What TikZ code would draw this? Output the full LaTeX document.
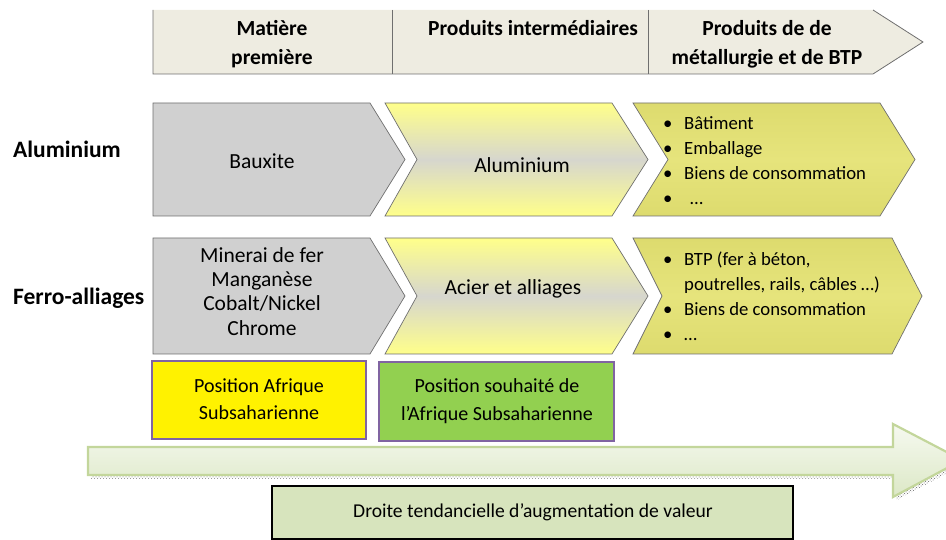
\documentclass[tikz,border=0pt]{standalone}
\usepackage{fontspec}
\setmainfont{Carlito}
\usetikzlibrary{patterns}
\definecolor{hdr}{HTML}{EEECE1}
\definecolor{hdrline}{HTML}{6F6F6F}
\definecolor{chevline}{HTML}{6F6F6F}
\definecolor{grayfill}{HTML}{D0D0D0}
\definecolor{yel}{HTML}{FFFF8A}
\definecolor{midgray}{HTML}{D6D6CE}
\definecolor{olive}{HTML}{E6E47C}
\definecolor{olivedark}{HTML}{DDDB6E}
\definecolor{purp}{HTML}{8064A2}
\definecolor{grn}{HTML}{92D050}
\definecolor{arrowline}{HTML}{C3D69B}
\definecolor{arrowlight}{HTML}{F6F9F0}
\definecolor{arrowdark}{HTML}{DCE8C6}
\definecolor{boxfill}{HTML}{D7E4BD}
\tikzset{
  txt/.style={anchor=base, inner sep=0pt, font=\fontsize{21.5}{25}\selectfont},
  hdrtxt/.style={anchor=base, inner sep=0pt, font=\fontsize{21.5}{25}\selectfont\bfseries},
  rowlabel/.style={anchor=base west, inner sep=0pt, font=\fontsize{23.5}{27}\selectfont\bfseries},
  bul/.style={anchor=base west, inner sep=0pt, font=\fontsize{18.7}{22}\selectfont},
  postxt/.style={anchor=base, inner sep=0pt, font=\fontsize{20}{24}\selectfont},
  chev/.style={draw=chevline, line width=0.7pt},
  grayarrow/.style={chev, fill=grayfill},
  yelchev/.style={chev, top color=yel, bottom color=yel, middle color=midgray},
  olivechev/.style={chev, top color=olivedark, bottom color=olivedark, middle color=olive},
  posbox/.style={draw=purp, line width=1.6pt, inner sep=0pt},
}
\begin{document}
\begin{tikzpicture}[x=1pt,y=-1pt]
\useasboundingbox (0,0) rectangle (946,540);
\clip (0,0) rectangle (946,540);
% header band
\fill[hdr] (153,10) -- (873,10) -- (923,42) -- (873,74) -- (153,74) -- cycle;
\draw[hdrline, line width=0.8pt] (153,10) -- (153,74) -- (873,74) -- (923,42) -- (873,10);
\draw[hdrline, line width=0.8pt] (392,10) -- (392,74);
\draw[hdrline, line width=0.8pt] (648,10) -- (648,74);
\node[hdrtxt] (h1a) at (272,36) {Matière};
\node[hdrtxt] (h1b) at (272,65) {première};
\node[hdrtxt] (h2) at (533,36) {Produits intermédiaires};
\node[hdrtxt] (h3a) at (767,36) {Produits de de};
\node[hdrtxt] (h3b) at (767,65) {métallurgie et de BTP};
% row labels
\node[rowlabel] (lab1) at (13,158) {Aluminium};
\node[rowlabel] (lab2) at (13,305) {Ferro-alliages};
% row 1 chevrons
\draw[grayarrow] (153,103) -- (370,103) -- (405,159.5) -- (370,216) -- (153,216) -- cycle;
\draw[yelchev] (385,103) -- (612,103) -- (648,159.5) -- (612,216) -- (385,216) -- (417,159.5) -- cycle;
\draw[olivechev] (633,103) -- (880,103) -- (915,159.5) -- (880,216) -- (633,216) -- (668,159.5) -- cycle;
\node[txt] (bauxite) at (262,169) {Bauxite};
\node[txt] (alu) at (522,173) {Aluminium};
\node[bul] (b1a) at (663,130) {•};
\node[bul] (t1a) at (684,130) {Bâtiment};
\node[bul] (b1b) at (663,155) {•};
\node[bul] (t1b) at (684,155) {Emballage};
\node[bul] (b1c) at (663,180) {•};
\node[bul] (t1c) at (684,180) {Biens de consommation};
\node[bul] (b1d) at (663,205) {•};
\node[bul] (t1d) at (690,205) {…};
% row 2 chevrons
\draw[grayarrow] (153,238) -- (370,238) -- (405,296) -- (370,354) -- (153,354) -- cycle;
\draw[yelchev] (385,238) -- (612,238) -- (648,296) -- (612,354) -- (385,354) -- (417,296) -- cycle;
\draw[olivechev] (633,238) -- (892,238) -- (922,296) -- (892,354) -- (633,354) -- (662,296) -- cycle;
\node[txt] (m1) at (262,263) {Minerai de fer};
\node[txt] (m2) at (262,287) {Manganèse};
\node[txt] (m3) at (262,311) {Cobalt/Nickel};
\node[txt] (m4) at (262,335) {Chrome};
\node[txt] (acier) at (513,295) {Acier et alliages};
\node[bul] (b2a) at (663,266) {•};
\node[bul] (t2a) at (684,266) {BTP (fer à béton,};
\node[bul] (t2b) at (684,291) {poutrelles, rails, câbles …)};
\node[bul] (b2c) at (663,316) {•};
\node[bul] (t2c) at (684,316) {Biens de consommation};
\node[bul] (b2d) at (663,341) {•};
\node[bul] (t2d) at (684,341) {…};
% position boxes
\node[posbox, fill=yellow, minimum width=214pt, minimum height=78pt] (pos1) at (259,400) {};
\node[postxt] (p1a) at (259,392) {Position Afrique};
\node[postxt] (p1b) at (259,419) {Subsaharienne};
\node[posbox, fill=grn, minimum width=235pt, minimum height=79pt] (pos2) at (496.5,401.5) {};
\node[postxt] (p2a) at (497,392) {Position souhaité de};
\node[postxt] (p2b) at (497,420) {l’Afrique Subsaharienne};
% big arrow with textured shadow
\fill[pattern=crosshatch dots, pattern color=gray!80!black, shift={(3pt,-3.5pt)}]
  (88,447) -- (893,447) -- (893,424) -- (962,460) -- (893,497) -- (893,475) -- (88,475) -- cycle;
\draw[arrowline, line width=2.2pt, top color=arrowlight, bottom color=arrowdark]
  (88,447) -- (893,447) -- (893,424) -- (962,460) -- (893,497) -- (893,475) -- (88,475) -- cycle;
% bottom box
\node[draw=black, line width=1.4pt, fill=boxfill, minimum width=521pt, minimum height=53pt, inner sep=0pt] (droite) at (532.5,512.5) {};
\node[anchor=base, inner sep=0pt, font=\fontsize{19.6}{23}\selectfont] (dtxt) at (533,517) {Droite tendancielle d’augmentation de valeur};
\end{tikzpicture}
\end{document}
